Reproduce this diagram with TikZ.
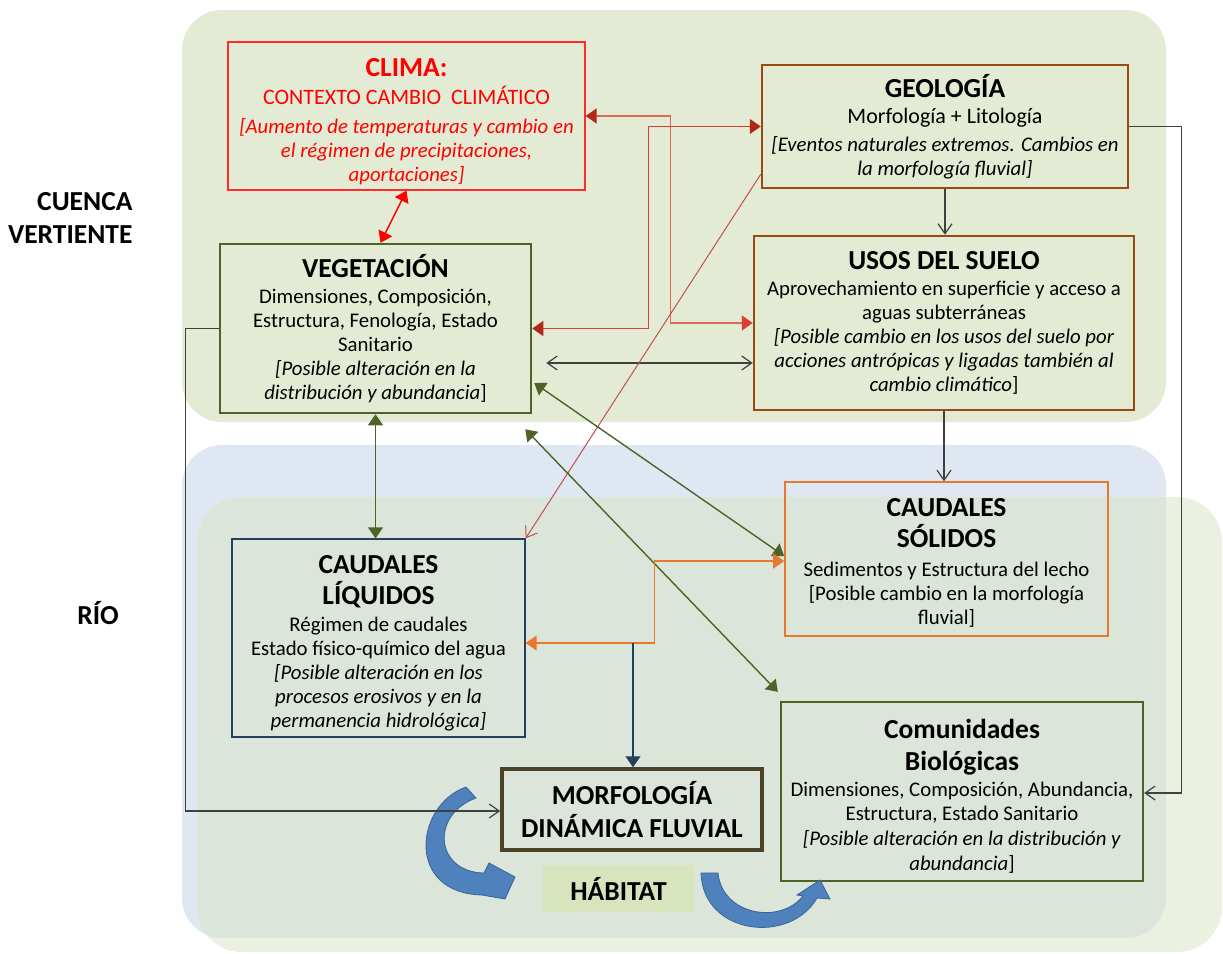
\documentclass[tikz,border=0pt]{standalone}
\usepackage{fontspec}
\setmainfont{Carlito}
\usetikzlibrary{arrows.meta}

\definecolor{verdecuenca}{HTML}{E4EBD4}
\definecolor{azulrio}{HTML}{DFE7F2}
\definecolor{verderio}{HTML}{EAF1E1}
\definecolor{verdesolape}{HTML}{DCE5D9}
\definecolor{rojoclima}{HTML}{FF2B2B}
\definecolor{rojolinea}{HTML}{D9402E}
\definecolor{rojooscuro}{HTML}{B3261A}
\definecolor{salmon}{HTML}{DC6A56}
\definecolor{granate}{HTML}{C0504D}
\definecolor{marron}{HTML}{9A4A0F}
\definecolor{oliva}{HTML}{4F6228}
\definecolor{naranja}{HTML}{E8782E}
\definecolor{marino}{HTML}{243F60}
\definecolor{pardo}{HTML}{4A4328}
\definecolor{azulflecha}{HTML}{4F81BD}
\definecolor{azulborde}{HTML}{3A6498}
\definecolor{habitat}{HTML}{D7E4BD}
\definecolor{gris}{HTML}{404040}

\newcommand{\titf}{\fontsize{27.5}{33}\selectfont\bfseries}
\newcommand{\cuerpo}{\fontsize{20.8}{24}\selectfont}

\begin{document}
\begin{tikzpicture}[x=1pt, y=-1pt,
  caja/.style={draw, align=center, inner sep=0pt, font=\cuerpo},
  tri/.style={>={Triangle[length=11pt,width=15pt]}, ->},
  dobletri/.style={>={Triangle[length=11pt,width=15pt]}, <->},
  abierta/.style={>={Straight Barb[length=10pt,width=14pt]}, ->},
  dobleabierta/.style={>={Straight Barb[length=10pt,width=14pt]}, <->}]

 \useasboundingbox (0,0) rectangle (1223,953);

 % zonas
 \fill[verdecuenca, rounded corners=40pt] (182,10) rectangle (1166,422);
 \fill[azulrio, rounded corners=40pt] (182,445) rectangle (1166,938);
 \fill[verderio, rounded corners=45pt] (197,497) rectangle (1222,952);
 \begin{scope}
  \clip[rounded corners=40pt] (182,445) rectangle (1166,938);
  \fill[verdesolape, rounded corners=45pt] (197,497) rectangle (1222,952);
 \end{scope}

 \node[font=\titf, align=right, anchor=east] (cuenca) at (136,218) {CUENCA\\VERTIENTE};
 \node[font=\titf] (rio) at (98,613) {RÍO};

 % cajas
 \node[caja, draw=rojoclima, line width=1.3pt, text=red, minimum width=357pt, minimum height=148pt] (clima) at (406.5,116)
  {{\titf\rule{0pt}{30pt}CLIMA:}\\[4pt]
   {\fontsize{22}{24}\selectfont CONTEXTO CAMBIO \ CLIMÁTICO}\\[5pt]
   \textit{[Aumento de temperaturas y cambio en}\\
   \textit{el régimen de precipitaciones,}\\
   \textit{aportaciones]}};

 \node[caja, draw=marron, line width=2.5pt, minimum width=366pt, minimum height=123pt] (geo) at (945,126.5)
  {{\titf GEOLOGÍA}\\[2pt]
   {\fontsize{22}{24}\selectfont Morfología + Litología}\\[4pt]
   \textit{[Eventos naturales extremos. Cambios en}\\
   \textit{la morfología fluvial]}};

 \node[caja, draw=oliva, line width=2.5pt, minimum width=311pt, minimum height=169pt] (veg) at (375.5,328.5)
  {{\titf\rule{0pt}{24pt}VEGETACIÓN}\\[2pt]
   Dimensiones, Composición,\\
   Estructura, Fenología, Estado\\
   Sanitario\\
   \textit{[Posible alteración en la}\\
   \textit{distribución y abundancia}]};

 \node[caja, draw=marron, line width=2.5pt, minimum width=380pt, minimum height=174pt] (usos) at (944,323)
  {{\titf USOS DEL SUELO}\\[2pt]
   Aprovechamiento en superficie y acceso a\\
   aguas subterráneas\\
   \textit{[Posible cambio en los usos del suelo por}\\
   \textit{acciones antrópicas y ligadas también al}\\
   \textit{cambio climático}]};

 \node[caja, draw=naranja, line width=1.6pt, minimum width=323pt, minimum height=154pt] (cs) at (946.5,559)
  {{\titf\rule{0pt}{26pt}CAUDALES}\\[7pt]
   {\titf SÓLIDOS}\\[5pt]
   Sedimentos y Estructura del lecho\\
   {[}Posible cambio en la morfología\\
   fluvial]};

 \node[caja, draw=marino, line width=1.3pt, minimum width=293pt, minimum height=198pt] (cl) at (378.5,638)
  {{\titf\rule{0pt}{29pt}CAUDALES}\\[7pt]
   {\titf LÍQUIDOS}\\[3pt]
   Régimen de caudales\\
   Estado físico-químico del agua\\
   \textit{[Posible alteración en los}\\
   \textit{procesos erosivos y en la}\\
   \textit{permanencia hidrológica]}};

 \node[caja, draw=pardo, line width=3.5pt, minimum width=260pt, minimum height=81pt, font=\titf] (morf) at (632,809.5)
  {MORFOLOGÍA\\DINÁMICA FLUVIAL};

 \node[fill=habitat, minimum width=151pt, minimum height=47pt, inner sep=0pt, font=\titf] (hab) at (618.5,888.5) {HÁBITAT};

 \node[caja, draw=oliva, line width=2.3pt, minimum width=362pt, minimum height=179pt] (com) at (962,791.5)
  {{\titf\rule{0pt}{28pt}Comunidades}\\[8pt]
   {\titf Biológicas}\\[2pt]
   Dimensiones, Composición, Abundancia,\\
   Estructura, Estado Sanitario\\[1pt]
   \textit{[Posible alteración en la distribución y}\\[1pt]
   \textit{abundancia}]};

 % flechas curvas
 \path[fill=azulflecha, draw=azulborde, line width=0.8pt]
  (466,787) .. controls (415,805) and (405,893) .. (482,895) -- (505,899) -- (515,877) -- (489,863)
  -- (484,873) .. controls (435,872) and (430,815) .. (476,798) -- cycle;
 \path[fill=azulflecha, draw=azulborde, line width=0.8pt]
  (701,873) .. controls (703,935) and (790,945) .. (817,898) -- (830,899) -- (820,880) -- (797,895)
  -- (803,896) .. controls (780,925) and (722,915) .. (718,873) -- cycle;

 % conexiones
 \draw[dobletri, red, line width=1.4pt] (clima.south) -- ([xshift=5pt]veg.north);
 \draw[arrows={Triangle[length=11pt,width=15pt,color=rojooscuro]-Triangle[length=11pt,width=15pt,color=rojolinea]}, salmon, line width=1.4pt]
  (clima.east) -- ++(85,0) |- (usos.west);
 \draw[arrows={Triangle[length=11pt,width=15pt,color=rojooscuro]-Triangle[length=11pt,width=15pt,color=rojooscuro]}, rojolinea, line width=1.4pt]
  (veg.east) -- ++(116,0) |- (geo.west);
 \draw[abierta, gris, line width=1.2pt] (geo.south) -- (geo.south |- usos.north);
 \draw[abierta, gris, line width=1.2pt] (usos.south) -- (usos.south |- cs.north);
 \draw[dobleabierta, gris, line width=1.2pt] ([shift={(14pt,-34.5pt)}]veg.east) -- ([yshift=-40pt]usos.west);
 \draw[abierta, granate, line width=1pt] ([yshift=15pt]geo.south west) -- (cl.north east);
 \draw[dobletri, oliva, line width=1.4pt] (veg.south) -- (veg.south |- cl.north);
 \draw[dobletri, oliva, line width=1.4pt] ([shift={(2pt,-54.5pt)}]veg.east) -- ([yshift=3pt]cs.west);
 \draw[dobletri, oliva, line width=1.4pt] ([shift={(-7pt,-15pt)}]veg.south east) -- ([shift={(-2pt,9pt)}]com.north west);
 \draw[dobletri, naranja, line width=1.6pt] ([yshift=-5pt]cl.east) -- ++(129,0) |- ([yshift=-2pt]cs.west);
 \coordinate (nudo) at (633,643);
 \draw[tri, marino, line width=1.4pt] (nudo) -- (nudo |- morf.north);
 \draw[abierta, gris, line width=1.2pt] (veg.west) -- ++(-33,0) |- ([yshift=-1.5pt]morf.west);
 \draw[abierta, gris, line width=1.2pt] (geo.east) -- ++(52,0) |- ([yshift=-1.5pt]com.east);

\end{tikzpicture}
\end{document}
